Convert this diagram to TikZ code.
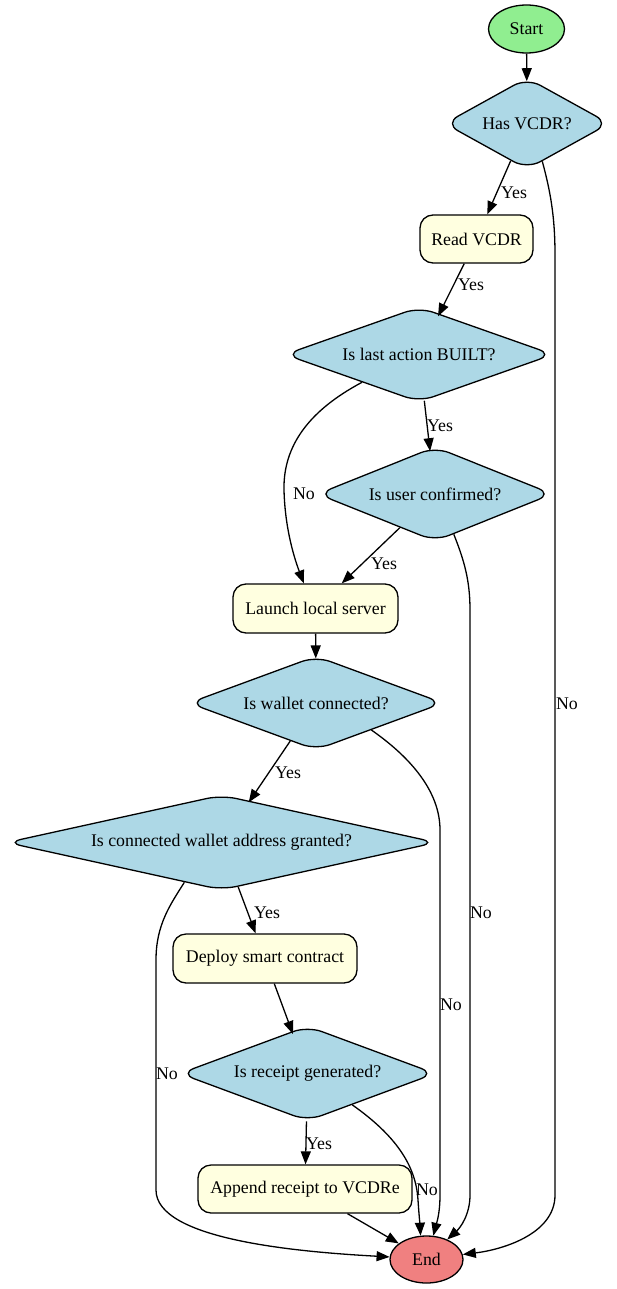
\documentclass[tikz,border=0pt]{standalone}
\usepackage{fontspec}
\setmainfont{Liberation Serif}
\usetikzlibrary{shapes.geometric,arrows.meta}
\definecolor{startgreen}{HTML}{90EE90}
\definecolor{decblue}{HTML}{ADD8E6}
\definecolor{procyellow}{HTML}{FFFFE0}
\definecolor{endred}{HTML}{F08080}
\begin{document}
\begin{tikzpicture}[x=1pt,y=-1pt,line width=1.3pt,
  every node/.style={font=\fontsize{17.8}{21}\selectfont},
  term/.style={ellipse, draw, inner sep=0pt},
  decision/.style={diamond, draw, fill=decblue, rounded corners=15pt, inner sep=0pt},
  process/.style={rectangle, draw, fill=procyellow, rounded corners=13pt, inner sep=0pt},
  flow/.style={-{Triangle[length=13pt,width=10pt]}},
  intop/.style={shorten >=-3pt},
  lbl/.style={inner sep=0pt}]
\useasboundingbox (0,0) rectangle (616,1289);

% nodes
\node[term, fill=startgreen, minimum width=76pt, minimum height=48pt] (start) at (526.5,29) {Start};
\node[decision, aspect=2.5, minimum width=165pt, minimum height=91.5pt] (hasvcdr) at (527,123.5) {Has VCDR?};
\node[process, minimum width=113pt, minimum height=48pt] (readvcdr) at (476.5,239) {Read VCDR};
\node[decision, aspect=3, minimum width=268.5pt, minimum height=95pt] (lastaction) at (419,354.5) {Is last action BUILT?};
\node[decision, aspect=3.5, minimum width=235pt, minimum height=94.5pt] (userconf) at (435,494) {Is user confirmed?};
\node[process, minimum width=165pt, minimum height=49pt] (launch) at (315.5,608.5) {Launch local server};
\node[decision, aspect=3.5, minimum width=254.5pt, minimum height=94pt] (wallet) at (316,703) {Is wallet connected?};
\node[decision, aspect=5, minimum width=430pt, minimum height=95pt] (granted) at (221.5,842.5) {Is connected wallet address granted?};
\node[process, minimum width=184pt, minimum height=49pt] (deploy) at (265,958.5) {Deploy smart contract};
\node[decision, aspect=3.5, minimum width=255.5pt, minimum height=95pt] (receipt) at (307.5,1073.5) {Is receipt generated?};
\node[process, minimum width=214pt, minimum height=48pt] (append) at (305,1189) {Append receipt to VCDRe};
\node[term, fill=endred, minimum width=73pt, minimum height=47pt] (end) at (426.5,1259.5) {End};

% straight connectors
\draw[flow, shorten >=-4pt] (start) -- (hasvcdr);
\draw[flow] (hasvcdr) -- (readvcdr);
\draw[flow, intop] (readvcdr) -- (lastaction);
\draw[flow, intop] (lastaction) -- (userconf);
\draw[flow] (userconf) -- (launch);
\draw[flow, intop] (launch) -- (wallet);
\draw[flow, shorten >=-2pt] (wallet) -- (granted);
\draw[flow] (granted) -- (deploy);
\draw[flow, intop] (deploy) -- (receipt);
\draw[flow] (receipt) -- (append);
\draw[flow] (append) -- (end);

% curved connectors
\draw[flow] (hasvcdr.-68) .. controls (550,190) and (555,215) .. (555,255) -- (555,1195) .. controls (555,1235) and (500,1250) .. (end.8);
\draw[flow] (lastaction.-154) .. controls (310,410) and (283,445) .. (284,490) .. controls (285,530) and (295,560) .. (launch.115);
\draw[flow] (userconf.-65) .. controls (464,560) and (470,580) .. (470,610) -- (470,1195) .. controls (470,1215) and (460,1228) .. (end.44);
\draw[flow] (wallet.-26) .. controls (400,750) and (440,785) .. (440,830) -- (440,1195) .. controls (440,1215) and (436,1225) .. (end.74);
\draw[flow] (granted.-133) .. controls (170,905) and (156,925) .. (156,960) -- (156,1190) .. controls (156,1240) and (300,1252) .. (end.176);
\draw[flow] (receipt.-35) .. controls (395,1135) and (416,1165) .. (418,1200) .. controls (419,1215) and (420,1225) .. (end.104);

% labels
\node[lbl] (l1) at (514,193) {Yes};
\node[lbl] (l2) at (471,285) {Yes};
\node[lbl] (l3) at (440,426) {Yes};
\node[lbl] (l4) at (304,494) {No};
\node[lbl] (l5) at (384,564) {Yes};
\node[lbl] (l6) at (567,704) {No};
\node[lbl] (l7) at (288,773) {Yes};
\node[lbl] (l8) at (267,913) {Yes};
\node[lbl] (l9) at (481,913) {No};
\node[lbl] (l10) at (451,1005) {No};
\node[lbl] (l11) at (167,1074) {No};
\node[lbl] (l12) at (319,1144) {Yes};
\node[lbl] (l13) at (427,1190) {No};
\end{tikzpicture}
\end{document}
